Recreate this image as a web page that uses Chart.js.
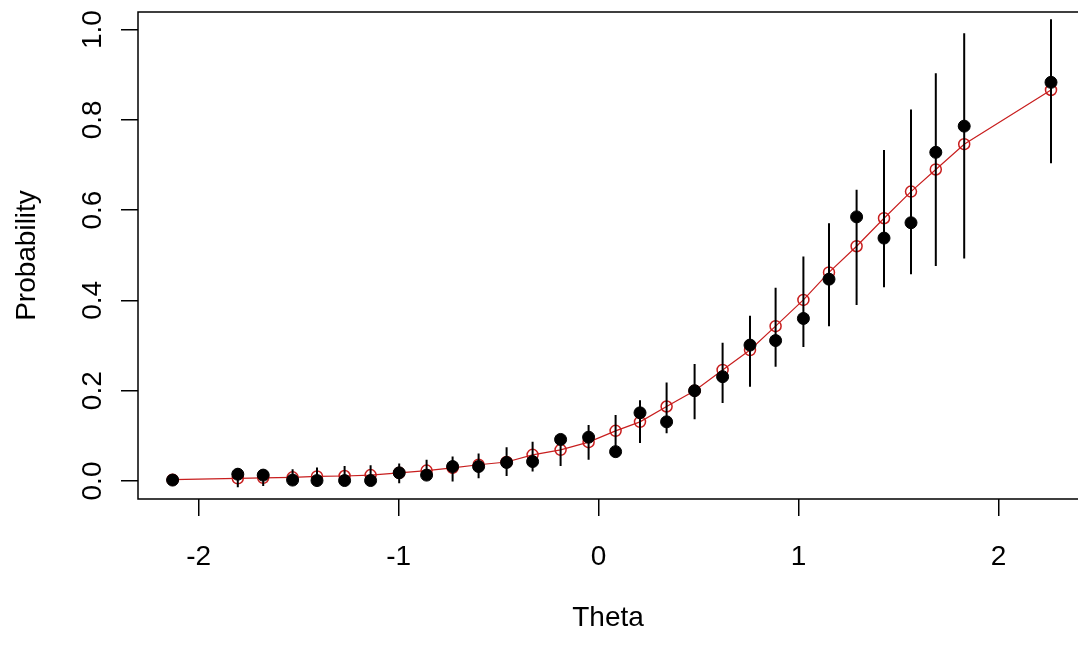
<!DOCTYPE html>
<html>
<head>
<meta charset="utf-8">
<script src="https://cdn.jsdelivr.net/npm/chart.js@4"></script>
<style>
  html, body { margin: 0; padding: 0; background: #fff; overflow: hidden; }
  #wrap { width: 1078px; height: 645px; position: relative; }
</style>
</head>
<body>
<div id="wrap"><canvas id="chart"></canvas></div>
<script>
const THETA    = [-2.13,-1.804,-1.677,-1.53,-1.408,-1.27,-1.14,-0.997,-0.86,-0.73,-0.60,-0.46,-0.33,-0.19,-0.05,0.085,0.207,0.34,0.48,0.62,0.757,0.885,1.024,1.152,1.29,1.427,1.562,1.686,1.828,2.262];
const OBSERVED = [0.002,0.015,0.013,0.002,0.001,0.001,0.001,0.018,0.013,0.032,0.032,0.041,0.043,0.092,0.097,0.065,0.151,0.131,0.200,0.231,0.301,0.311,0.360,0.447,0.585,0.538,0.572,0.728,0.786,0.883];
const EXPECTED = [0.003,0.006,0.007,0.008,0.010,0.011,0.013,0.018,0.023,0.029,0.036,0.042,0.058,0.069,0.086,0.111,0.131,0.165,0.200,0.246,0.290,0.343,0.401,0.462,0.520,0.582,0.641,0.690,0.746,0.866];
const LOWER    = [0.000,-0.014,-0.011,-0.009,-0.005,-0.001,-0.001,-0.005,0.002,-0.001,0.006,0.011,0.021,0.033,0.047,0.065,0.084,0.106,0.137,0.173,0.209,0.253,0.297,0.343,0.390,0.429,0.458,0.476,0.493,0.704];
const UPPER    = [0.004,0.028,0.024,0.026,0.030,0.033,0.035,0.039,0.047,0.054,0.061,0.075,0.087,0.098,0.124,0.146,0.179,0.218,0.259,0.306,0.366,0.428,0.497,0.571,0.645,0.733,0.823,0.903,0.992,1.023];
const X_TICKS  = [-2, -1, 0, 1, 2];
const Y_TICKS  = [0, 0.2, 0.4, 0.6, 0.8, 1.0];

const FONT = { family: '"Liberation Sans", Arial, sans-serif', size: 28 };
const RED = '#c81e1e';

// error bars as one line dataset, broken by nulls
const errData = [];
THETA.forEach((x, i) => {
  errData.push({x, y: LOWER[i]}, {x, y: UPPER[i]}, {x, y: null});
});

const boxPlugin = {
  id: 'box',
  afterDraw(chart) {
    const {ctx, chartArea: a, scales} = chart;
    ctx.save();
    ctx.strokeStyle = '#000';
    ctx.lineWidth = 1.5;
    ctx.beginPath();
    ctx.moveTo(a.right + 2, a.top); ctx.lineTo(a.left, a.top);
    ctx.lineTo(a.left, a.bottom); ctx.lineTo(a.right + 2, a.bottom);
    ctx.stroke();
    // rotated y tick labels, R style
    ctx.fillStyle = '#000';
    ctx.font = `${FONT.size}px ${FONT.family}`;
    ctx.textAlign = 'center';
    ctx.textBaseline = 'middle';
    Y_TICKS.forEach(v => {
      const y = scales.y.getPixelForValue(v);
      ctx.save();
      ctx.translate(93, y);
      ctx.rotate(-Math.PI / 2);
      ctx.fillText(v.toFixed(1), 0, 0);
      ctx.restore();
    });
    ctx.restore();
  }
};

new Chart(document.getElementById('chart'), {
  type: 'scatter',
  data: {
    datasets: [
      { label: 'observed', data: THETA.map((x, i) => ({x, y: OBSERVED[i]})),
        pointRadius: 6, pointBackgroundColor: '#000', pointBorderColor: '#000', pointBorderWidth: 1, order: 0 },
      { label: 'ci', data: errData, showLine: true, spanGaps: false, pointRadius: 0,
        borderColor: '#000', borderWidth: 2, order: 1 },
      { label: 'expected', data: THETA.map((x, i) => ({x, y: EXPECTED[i]})), showLine: true,
        borderColor: RED, borderWidth: 1.2, pointRadius: 5.5, pointBackgroundColor: 'rgba(0,0,0,0)',
        pointBorderColor: RED, pointBorderWidth: 1.5, order: 2 }
    ]
  },
  options: {
    responsive: true,
    maintainAspectRatio: false,
    animation: false,
    layout: { autoPadding: false, padding: { top: 12, right: 0, left: 0, bottom: 0 } },
    plugins: { legend: { display: false }, tooltip: { enabled: false } },
    scales: {
      x: {
        type: 'linear', min: -2.303, max: 2.397,
        afterBuildTicks: s => { s.ticks = X_TICKS.map(v => ({value: v})); },
        afterFit: s => { s.height = 146; s.paddingLeft = 0; s.paddingRight = 0; },
        border: { display: false },
        grid: { drawOnChartArea: false, drawTicks: true, tickLength: 17, color: '#000', lineWidth: 1.5 },
        ticks: { color: '#000', font: FONT, padding: 24, maxRotation: 0, callback: v => String(v) },
        title: { display: true, text: 'Theta', color: '#000', font: FONT, padding: { top: 0, bottom: 10 } }
      },
      y: {
        type: 'linear', min: -0.0399, max: 1.0388,
        afterBuildTicks: s => { s.ticks = Y_TICKS.map(v => ({value: v})); },
        afterFit: s => { s.width = 138; s.paddingTop = 0; s.paddingBottom = 0; },
        border: { display: false },
        grid: { drawOnChartArea: false, drawTicks: true, tickLength: 17, color: '#000', lineWidth: 1.5 },
        ticks: { display: false },
        title: { display: true, text: 'Probability', color: '#000', font: FONT, padding: { top: 10, bottom: 0 } }
      }
    }
  },
  plugins: [boxPlugin]
});
</script>
</body>
</html>
